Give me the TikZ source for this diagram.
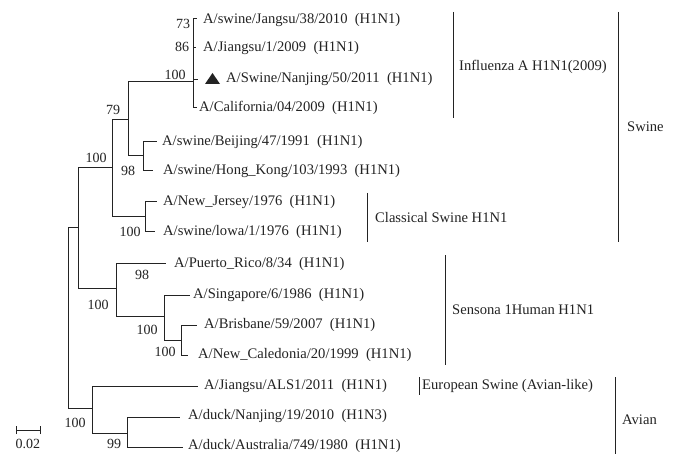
\documentclass[tikz,border=0pt]{standalone}
\usepackage{fontspec}
\setmainfont{Liberation Serif}
\definecolor{ink}{RGB}{35,35,35}
\tikzset{
  branch/.style={draw=ink, line width=1pt},
  bracket/.style={draw=ink, line width=1pt},
  leaf/.style={anchor=west, inner sep=0pt, text=ink, font=\fontsize{14.6}{16}\selectfont},
  boot/.style={inner sep=0pt, text=ink, font=\fontsize{14}{16}\selectfont},
  group/.style={anchor=west, inner sep=0pt, text=ink, font=\fontsize{14.6}{16}\selectfont}
}
\begin{document}
\begin{tikzpicture}[x=1pt,y=-1pt]
\useasboundingbox[fill=white] (0,0) rectangle (674,454);
% internal nodes
\coordinate (R) at (68,318);
\coordinate (A) at (78,228);
\coordinate (X) at (112,168);
\coordinate (Y) at (128,120);
\coordinate (F) at (193,82);
\coordinate (B) at (143,156);
\coordinate (C) at (145,217);
\coordinate (H) at (116,288);
\coordinate (H2) at (164,316);
\coordinate (H3) at (181,340);
\coordinate (AV) at (92,408);
\coordinate (D) at (127,433);
% tips
\coordinate (t1) at (197,19);
\coordinate (t2) at (196,48);
\coordinate (t3) at (198,80);
\coordinate (t4) at (197,108);
\coordinate (t5) at (157,142);
\coordinate (t6) at (153,171);
\coordinate (t7) at (157,202);
\coordinate (t8) at (155,232);
\coordinate (t9) at (166,263);
\coordinate (t10) at (190,295);
\coordinate (t11) at (197,325);
\coordinate (t12) at (188,355);
\coordinate (t13) at (198,386);
\coordinate (t14) at (180,417);
\coordinate (t15) at (183,447);
% branches
\draw[branch] (R) |- (A);
\draw[branch] (R) |- (AV);
\draw[branch] (A) |- (X);
\draw[branch] (A) |- (H);
\draw[branch] (X) |- (Y);
\draw[branch] (X) |- (C);
\draw[branch] (Y) |- (F);
\draw[branch] (Y) |- (B);
\draw[branch] (F) |- (t1);
\draw[branch] (F) |- (t2);
\draw[branch] (F) |- (t3);
\draw[branch] (F) |- (t4);
\draw[branch] (B) |- (t5);
\draw[branch] (B) |- (t6);
\draw[branch] (C) |- (t7);
\draw[branch] (C) |- (t8);
\draw[branch] (H) |- (t9);
\draw[branch] (H) |- (H2);
\draw[branch] (H2) |- (t10);
\draw[branch] (H2) |- (H3);
\draw[branch] (H3) |- (t11);
\draw[branch] (H3) |- (t12);
\draw[branch] (AV) |- (t13);
\draw[branch] (AV) |- (D);
\draw[branch] (D) |- (t14);
\draw[branch] (D) |- (t15);
% leaf labels
\node[leaf] (l1) at (203,20) {A/swine/Jangsu/38/2010~ (H1N1)};
\node[leaf] (l2) at (203,48) {A/Jiangsu/1/2009~ (H1N1)};
\fill[ink] (205,84) -- (220,84) -- (212.5,73) -- cycle;
\node[leaf] (l3) at (226,79) {A/Swine/Nanjing/50/2011~ (H1N1)};
\node[leaf] (l4) at (199,108) {A/California/04/2009~ (H1N1)};
\node[leaf] (l5) at (162,142) {A/swine/Beijing/47/1991~ (H1N1)};
\node[leaf] (l6) at (163,171) {A/swine/Hong\_Kong/103/1993~ (H1N1)};
\node[leaf] (l7) at (163,202) {A/New\_Jersey/1976~ (H1N1)};
\node[leaf] (l8) at (163,232) {A/swine/lowa/1/1976~ (H1N1)};
\node[leaf] (l9) at (174,264) {A/Puerto\_Rico/8/34~ (H1N1)};
\node[leaf] (l10) at (193,295) {A/Singapore/6/1986~ (H1N1)};
\node[leaf] (l11) at (204,325) {A/Brisbane/59/2007~ (H1N1)};
\node[leaf] (l12) at (198,355) {A/New\_Caledonia/20/1999~ (H1N1)};
\node[leaf] (l13) at (204,386) {A/Jiangsu/ALS1/2011~ (H1N1)};
\node[leaf] (l14) at (188,416) {A/duck/Nanjing/19/2010~ (H1N3)};
\node[leaf] (l15) at (188,446) {A/duck/Australia/749/1980~ (H1N1)};
% bootstrap values
\node[boot] (b73) at (183,24) {73};
\node[boot] (b86) at (182,47) {86};
\node[boot] (b100f) at (175,75) {100};
\node[boot] (b79) at (113,110) {79};
\node[boot] (b100x) at (96,158) {100};
\node[boot] (b98b) at (128,171) {98};
\node[boot] (b100c) at (130,232) {100};
\node[boot] (b98h) at (142,275) {98};
\node[boot] (b100h) at (98,305) {100};
\node[boot] (b100h2) at (147,330) {100};
\node[boot] (b100h3) at (165,352) {100};
\node[boot] (b100a) at (75,423) {100};
\node[boot] (b99) at (114,444) {99};
% group brackets
\draw[bracket] (453,12) -- (453,118);
\node[group] (gflu) at (459,67) {Influenza A H1N1(2009)};
\draw[bracket] (618,12) -- (618,242);
\node[group] (gswine) at (627,127) {Swine};
\draw[bracket] (367,193) -- (367,242);
\node[group] (gclass) at (375,218) {Classical Swine H1N1};
\draw[bracket] (445,255) -- (445,365);
\node[group] (ghum) at (452,310) {Sensona 1Human H1N1};
\draw[bracket] (419,377) -- (419,395);
\node[group] (geur) at (422,386) {European Swine (Avian-like)};
\draw[bracket] (615,377) -- (615,454);
\node[group] (gav) at (622,420) {Avian};
% scale bar
\coordinate (s1) at (16,430);
\coordinate (s2) at (40,430);
\draw[branch] (s1) -- (s2);
\draw[branch] ([yshift=-4pt]s1) -- ([yshift=4pt]s1);
\draw[branch] ([yshift=-4pt]s2) -- ([yshift=4pt]s2);
\node[boot] (scale) at (28,444) {0.02};
\end{tikzpicture}
\end{document}
